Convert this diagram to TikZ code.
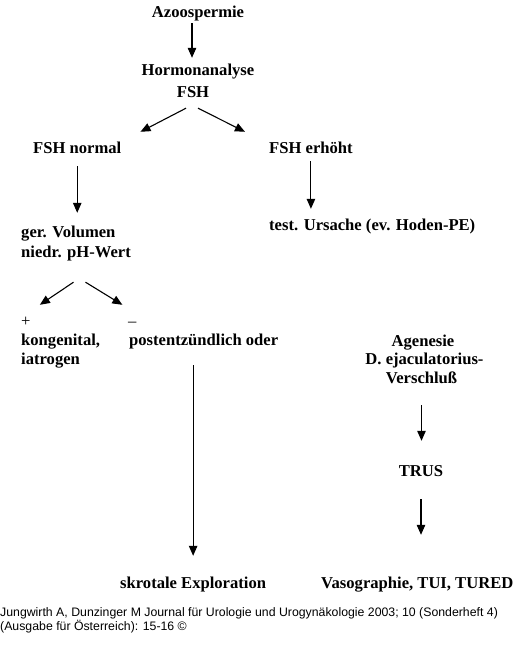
\documentclass[tikz,border=0pt]{standalone}
\usepackage{fontspec}
\setmainfont{Liberation Serif}
\newfontfamily\capfont{Liberation Sans}
\usetikzlibrary{arrows.meta}
\tikzset{
  lbl/.style={font=\fontsize{16.6}{20}\selectfont\bfseries, inner sep=0pt, text height=12pt, text depth=4pt},
  sgn/.style={lbl, font=\fontsize{16.6}{20}\selectfont},
  srctext/.style={font=\capfont\fontsize{12.3}{14}\selectfont, inner sep=0pt, anchor=base west},
  arr/.style={line width=1.1pt, -{Triangle[length=10pt,width=8.5pt]}}
}
\begin{document}
\begin{tikzpicture}[x=1pt, y=-1pt]
	\useasboundingbox (0,0) rectangle (528,661);
	
	%top
	\node[lbl, anchor=base] (azo) at (198,18) {Azoospermie};
	\node[lbl, anchor=base] (horm) at (198,76) {Hormonanalyse};
	\node[lbl, anchor=base] (hfsh) at (193,97) {FSH};
	\node[lbl, anchor=base west] (norm) at (33,153) {FSH normal};
	\node[lbl, anchor=base west] (erh) at (269,153) {FSH erhöht};
	\node[lbl, anchor=base west] (urs) at (269,230) {test. Ursache (ev. Hoden-PE)};
	
	%left branch
	\node[lbl, anchor=base west] (vol) at (21,237) {ger. Volumen};
	\node[lbl, anchor=base west] (ph) at (21,257) {niedr. pH-Wert};
	\node[sgn, anchor=base west] (plus) at (21,326) {+};
	\node[sgn, anchor=base west] (minus) at (128,326) {–};
	\node[lbl, anchor=base west] (kong) at (21,345) {kongenital,};
	\node[lbl, anchor=base west] (iatr) at (21,364) {iatrogen};
	\node[lbl, anchor=base west] (post) at (129,345) {postentzündlich oder};
	\node[lbl, anchor=base west] (skrot) at (120,588) {skrotale Exploration};
	
	%right branch
	\node[lbl, anchor=base] (agen) at (423,346) {Agenesie};
	\node[lbl, anchor=base] (ejac) at (424.5,364) {D. ejaculatorius-};
	\node[lbl, anchor=base] (vers) at (421.5,383) {Verschluß};
	\node[lbl, anchor=base] (trus) at (421,476) {TRUS};
	\node[lbl, anchor=base west] (vaso) at (321,588) {Vasographie, TUI, TURED};
	
	%arrows
	\draw[arr] ([shift={(-6,1)}]azo.south) -- ([shift={(-6,-6)}]horm.north);
	\draw[arr] ([shift={(-7,7)}]hfsh.south) -- ([shift={(19,-9)}]norm.north east);
	\draw[arr] ([shift={(5,7)}]hfsh.south) -- ([shift={(-24,-9)}]erh.north west);
	\draw[arr, shorten <=9pt, shorten >=12pt] (norm.south) -- (norm.south |- vol.north);
	\draw[arr, shorten <=4pt, shorten >=9pt] (erh.south) -- (erh.south |- urs.north);
	\draw[arr] ([shift={(-2.5,21)}]ph.south) -- ([shift={(14,-9)}]plus.north);
	\draw[arr] ([shift={(9.5,21)}]ph.south) -- ([shift={(-10,-9)}]minus.north);
	\draw[arr, shorten <=16pt, shorten >=20pt] (skrot.north |- post.south) -- (skrot.north);
	\draw[arr, shorten <=18pt, shorten >=23pt] (vers.south) -- (vers.south |- trus.north);
	\draw[arr, shorten <=19pt, shorten >=41pt] (trus.south) -- (trus.south |- vaso.north);
	
	%source
	\node[srctext] (src1) at (0,616) {Jungwirth A, Dunzinger M Journal für Urologie und Urogynäkologie 2003; 10 (Sonderheft 4)};
	\node[srctext] (src2) at (0,630) {(Ausgabe für Österreich): 15-16 ©};
\end{tikzpicture}
\end{document}
